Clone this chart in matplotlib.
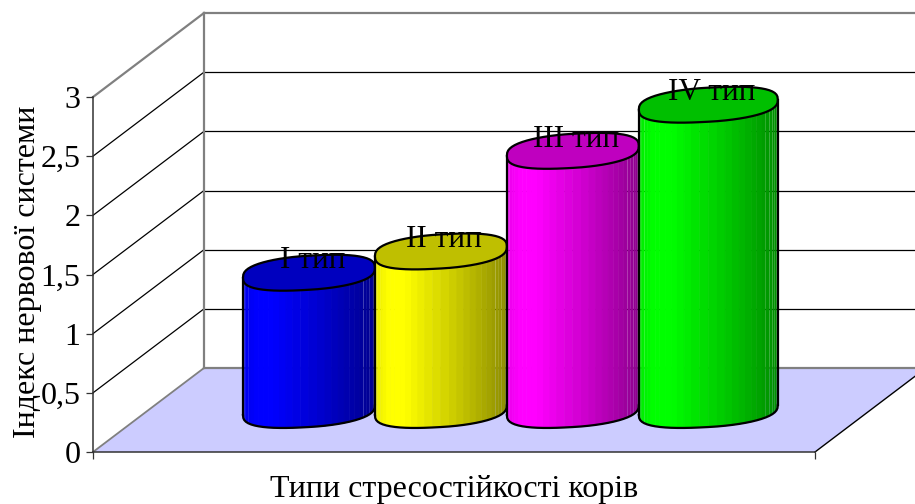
# -*- coding: utf-8 -*-
# cylinders on a fake 3d box, everything projected from plain data coords
import numpy as np
import matplotlib
matplotlib.use("Agg")
import matplotlib.pyplot as plt

plt.rcParams['font.family'] = ['Liberation Serif', 'DejaVu Serif']

# data
types = ['I тип', 'II тип', 'III тип', 'IV тип']
values = [1.16, 1.34, 2.19, 2.58]
colors = ['#0000FF', '#FFFF00', '#FF00FF', '#00FF00']
y_ticks = [0, 0.5, 1, 1.5, 2, 2.5, 3]
y_tick_labels = ['0', '0,5', '1', '1,5', '2', '2,5', '3']
x_label = 'Типи стресостійкості корів'
y_label = 'Індекс нервової системи'

# layout
W, H = 915, 504
left, right, bottom, top = 93, 815, 452, 97
x_max = 4
y_max = 3
depth_x = 111 / ((right - left) / x_max)   # back wall shift in x units
depth_y = 84 / ((bottom - top) / y_max)    # back wall shift in value units
bar_start = 0.5235
bar_step = 0.731
bar_widths = [0.731, 0.731, 0.731, 0.77]
cap_b = 0.144      # ellipse half height
cap_tilt = 0.042   # ellipse tilt, right side up
font = 23
label_font = 22.5


def proj(x, v, d=0.0):
    return x + d * depth_x, v + d * depth_y


def ring(t, cx, w):
    # slightly boxy ellipse, the original cylinders are not true ellipses
    c, s = np.cos(t), np.sin(t)
    ex = cx + w / 2 * np.sign(c) * np.abs(c) ** 0.9
    ey = cap_b * np.sign(s) * np.abs(s) ** 0.75 + cap_tilt * c
    return ex, ey


fig = plt.figure(figsize=(W / 100, H / 100), dpi=100)
ax = fig.add_axes([left / W, 1 - bottom / H, (right - left) / W, (bottom - top) / H])
ax.set_xlim(0, x_max)
ax.set_ylim(0, y_max)
ax.patch.set_visible(False)

# floor
fx, fy = zip(proj(0, 0), proj(x_max, 0), proj(x_max, 0, 1), proj(0, 0, 1))
ax.fill(fx, fy, color='#CCCCFF', lw=0, zorder=1, clip_on=False)

# walls and gridlines
for v in y_ticks:
    c = '#808080' if v in (0, y_max) else 'black'
    lw = 1.6 if v in (0, y_max) else 0.9
    x0, y0 = proj(0, v)
    x1, y1 = proj(0, v, 1)
    x2, y2 = proj(x_max, v, 1)
    ax.plot([x1, x2], [y1, y2], color=c, lw=lw, zorder=1.2, clip_on=False)
    ax.plot([x0, x1], [y0, y1], color=c, lw=lw if v else 1.3, zorder=1.3, clip_on=False)
bx, by = zip(proj(0, 0, 1), proj(0, y_max, 1))
ax.plot(bx, by, color='#808080', lw=1.6, zorder=1.3, clip_on=False)
rx, ry = zip(proj(x_max, 0), proj(x_max, 0, 1))
ax.plot(rx, ry, color='black', lw=1, zorder=1.4, clip_on=False)

# cylinders
n = 30
for i, (name, val, col) in enumerate(zip(types, values, colors)):
    w = bar_widths[i]
    cx, cy = proj(bar_start + bar_step * i + w / 2, 0, 0.5)
    z = 4 + i
    rgb = np.array(matplotlib.colors.to_rgb(col))

    theta = np.linspace(np.pi, 2 * np.pi, n + 1)   # front half, left to right
    ex, ey = ring(theta, cx, w)

    for k in range(n):
        u = (k + 0.5) / n
        u = (1 - np.cos(u * np.pi)) / 2
        if u < 0.12:
            s = 0.92 + 0.08 * u / 0.12
        elif u < 0.25:
            s = 1.0
        else:
            s = 1 - 0.45 * (u - 0.25) / 0.75
        # seams only stay visible towards the two edges
        seam = 0 if (k < 5 or k >= 23 or k % 7 == 0) else 0.7
        sx = [ex[k], ex[k + 1], ex[k + 1], ex[k]]
        sy = [cy + ey[k], cy + ey[k + 1], cy + val + ey[k + 1], cy + val + ey[k]]
        ax.fill(sx, sy, facecolor=rgb * s, edgecolor=rgb * s, lw=seam, zorder=z, clip_on=False)

    # outline of the body
    ax.plot(ex, cy + ey, color='black', lw=1.6, zorder=z + 0.1, clip_on=False)
    ax.plot([ex[0], ex[0]], [cy + ey[0], cy + val + ey[0]], color='black', lw=1.6,
            zorder=z + 0.1, clip_on=False)
    ax.plot([ex[-1], ex[-1]], [cy + ey[-1], cy + val + ey[-1]], color='black', lw=1.6,
            zorder=z + 0.1, clip_on=False)

    # cap
    t2 = np.linspace(0, 2 * np.pi, 2 * n + 1)
    tx, ty = ring(t2, cx, w)
    ax.fill(tx, cy + val + ty, facecolor=rgb * 0.75, edgecolor='black', lw=1.6, zorder=z + 0.2,
            clip_on=False)

    ax.annotate(name, (cx, cy + val), xytext=(2.5, 8.5), textcoords='offset points',
                ha='center', va='center', fontsize=label_font, color='black', zorder=20)

# axes
for s in ('top', 'right'):
    ax.spines[s].set_visible(False)
for s in ('left', 'bottom'):
    ax.spines[s].set_color('#333333')
    ax.spines[s].set_linewidth(1.1)
    ax.spines[s].set_zorder(3)
ax.set_yticks(y_ticks)
ax.set_yticklabels(y_tick_labels, fontsize=font)
ax.set_xticks([0, x_max])
ax.set_xticklabels([])
ax.tick_params(axis='both', length=5, width=0.9, color='#333333', pad=4)

ax.set_xlabel(x_label, fontsize=font, va='center')
ax.xaxis.set_label_coords(0.5, (bottom - 490) / (bottom - top))
ax.set_ylabel(y_label, fontsize=font, va='center')
ax.yaxis.set_label_coords((28 - left) / (right - left), 0.507)

fig.savefig('out.png', dpi=100, facecolor='white')
